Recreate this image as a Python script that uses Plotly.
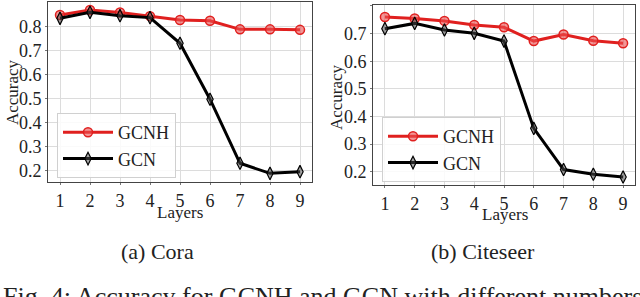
import plotly.graph_objects as go

layers = [1, 2, 3, 4, 5, 6, 7, 8, 9]
cora_gcnh = [0.850, 0.871, 0.860, 0.845, 0.829, 0.826, 0.790, 0.790, 0.788]
cora_gcn = [0.836, 0.861, 0.847, 0.839, 0.732, 0.499, 0.232, 0.190, 0.197]
cite_gcnh = [0.760, 0.755, 0.746, 0.731, 0.723, 0.673, 0.697, 0.674, 0.665]
cite_gcn = [0.718, 0.737, 0.713, 0.701, 0.673, 0.357, 0.208, 0.191, 0.181]
ytick_vals = [0.2, 0.3, 0.4, 0.5, 0.6, 0.7, 0.8]
ytick_text = ["0.2", "0.3", "0.4", "0.5", "0.6", "0.7", "0.8"]

RED = "#e0201f"
BLACK = "#000000"
FONT = "'Liberation Serif', 'Times New Roman', 'DejaVu Serif', serif"
W, H = 640, 297

fig = go.Figure()

def add_pair(xa, ya, gcnh, gcn, legend):
    fig.add_trace(go.Scatter(
        x=layers, y=gcnh, mode="lines+markers", name="GCNH",
        xaxis=xa, yaxis=ya, legend=legend,
        line=dict(color=RED, width=3),
        marker=dict(symbol="circle", size=9, color="rgba(235,80,80,0.6)",
                    line=dict(color=RED, width=1.5)),
    ))
    fig.add_trace(go.Scatter(
        x=layers, y=gcn, mode="lines+markers", name="GCN",
        xaxis=xa, yaxis=ya, legend=legend,
        line=dict(color=BLACK, width=3),
        marker=dict(symbol="diamond-tall", size=9, color="rgba(80,80,80,0.5)",
                    line=dict(color=BLACK, width=1.2)),
    ))

add_pair("x", "y", cora_gcnh, cora_gcn, "legend")
add_pair("x2", "y2", cite_gcnh, cite_gcn, "legend2")

def px_x(p):
    return p / W

def px_y(p):
    return (H - p) / H

axis_common = dict(
    showline=True, mirror=True, linecolor="#444444", linewidth=1,
    showgrid=True, gridcolor="#dcdcdc", gridwidth=1,
    ticks="outside", ticklen=2, tickcolor="#777777", tickwidth=1,
    tickfont=dict(family=FONT, size=18, color="#222222"),
    zeroline=False, automargin=False,
)

fig.update_layout(
    width=W, height=H,
    margin=dict(l=0, r=0, t=0, b=0, autoexpand=False),
    paper_bgcolor="white", plot_bgcolor="white",
    font=dict(family=FONT, color="#222222"),
    xaxis=dict(domain=[px_x(48), px_x(312)], range=[0.6, 9.4], anchor="y",
               tickvals=layers, **axis_common),
    yaxis=dict(domain=[px_y(182), px_y(2)], range=[0.154, 0.904], anchor="x",
               tickvals=ytick_vals, ticktext=ytick_text, **axis_common),
    xaxis2=dict(domain=[px_x(373), px_x(635)], range=[0.6, 9.4], anchor="y2",
                tickvals=layers, **axis_common),
    yaxis2=dict(domain=[px_y(185), px_y(5)], range=[0.152, 0.8036], anchor="x2",
                tickvals=ytick_vals, ticktext=ytick_text, **axis_common),
    legend=dict(x=px_x(57), y=px_y(113), xanchor="left", yanchor="top",
                bgcolor="rgba(255,255,255,0.85)", bordercolor="#d0d0d0", borderwidth=1,
                itemwidth=50,
                font=dict(family=FONT, size=18, color="#222222"), tracegroupgap=0),
    legend2=dict(x=px_x(382), y=px_y(117), xanchor="left", yanchor="top",
                 bgcolor="rgba(255,255,255,0.85)", bordercolor="#d0d0d0", borderwidth=1,
                 itemwidth=50,
                 font=dict(family=FONT, size=18, color="#222222"), tracegroupgap=0),
)

annots = [
    dict(text="Accuracy", x=px_x(12), y=px_y(92), textangle=-90, size=17),
    dict(text="Accuracy", x=px_x(337), y=px_y(97), textangle=-90, size=17),
    dict(text="Layers", x=px_x(180), y=px_y(212), textangle=0, size=17),
    dict(text="Layers", x=px_x(505), y=px_y(214), textangle=0, size=17),
    dict(text="(a) Cora", x=px_x(157), y=px_y(251), textangle=0, size=22),
    dict(text="(b) Citeseer", x=px_x(483), y=px_y(251), textangle=0, size=22),
]
for a in annots:
    fig.add_annotation(text=a["text"], x=a["x"], y=a["y"], xref="paper", yref="paper",
                       xanchor="center", yanchor="middle", textangle=a["textangle"],
                       showarrow=False, font=dict(family=FONT, size=a["size"], color="#222222"))

fig.add_annotation(text="Fig. 4: Accuracy for GCNH and GCN with different numbers",
                   x=px_x(1), y=px_y(280), xref="paper", yref="paper",
                   xanchor="left", yanchor="top", showarrow=False,
                   font=dict(family=FONT, size=26, color="#222222"))

fig.write_html("out.html", config={"displayModeBar": False},
               post_script="document.body.style.margin='0';document.body.style.padding='0';")
